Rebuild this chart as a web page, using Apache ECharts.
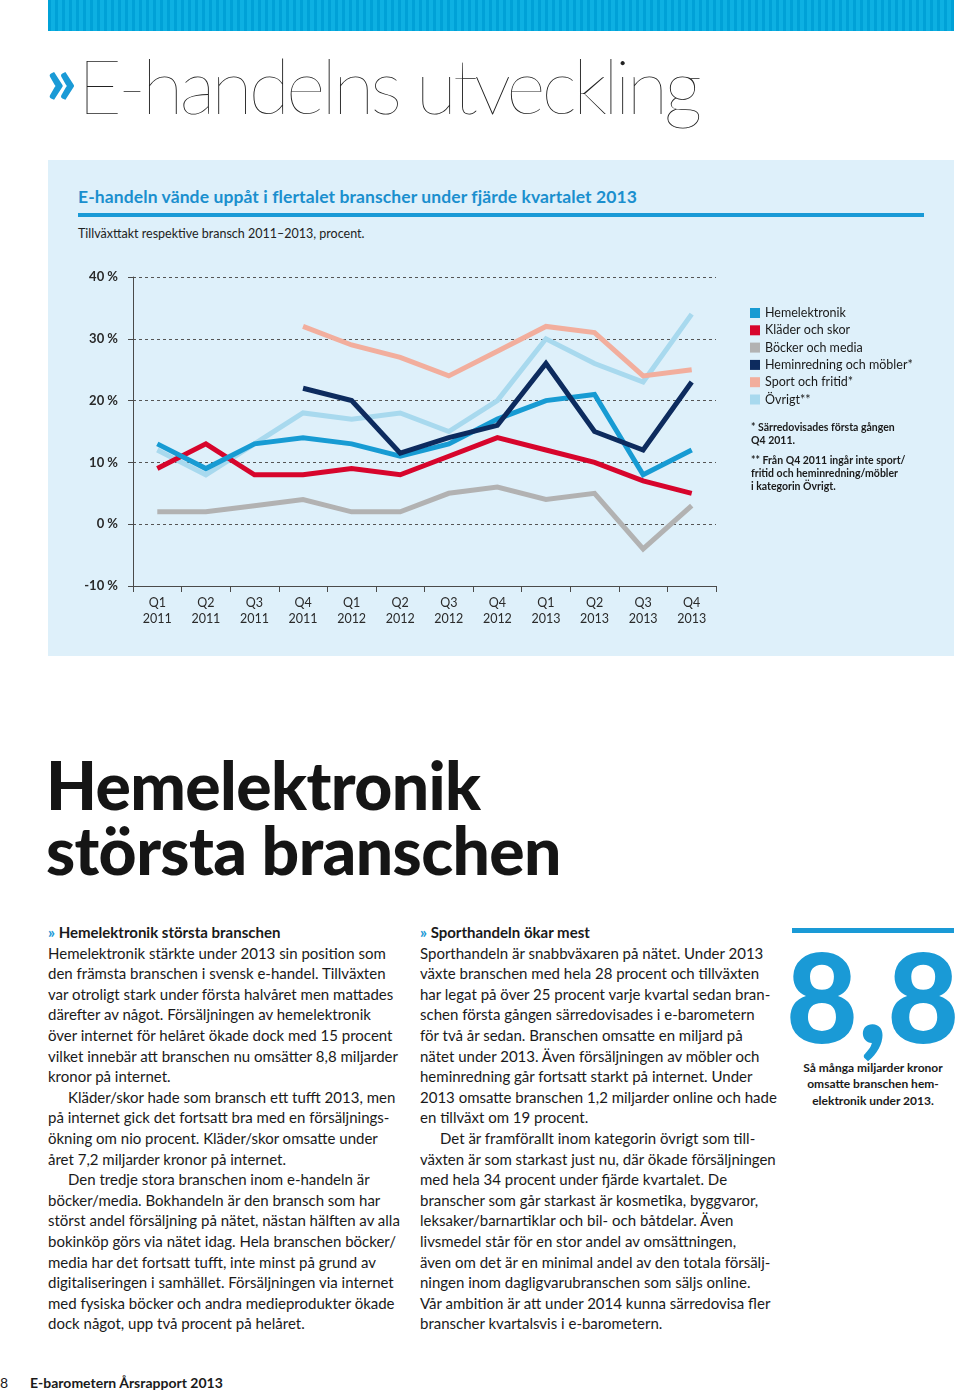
<!DOCTYPE html>
<html><head><meta charset="utf-8">
<script src="https://cdn.jsdelivr.net/npm/echarts@6/dist/echarts.min.js"></script>
<style>
html,body{margin:0;padding:0;background:#fff;}
body{width:960px;height:1394px;position:relative;overflow:hidden;font-family:Lato,'Noto Sans',sans-serif;color:#1a1a1a;}
.abs{position:absolute;white-space:nowrap;}
#stripe{left:48px;top:0;width:906px;height:31px;background:repeating-linear-gradient(90deg,#00a1d7 0 3px,#0db0e2 3px 7px);}
#title{left:46px;top:40px;font-size:76px;font-weight:100;line-height:90px;color:#222;letter-spacing:-4px;}
#title b{color:#1a9ad6;font-weight:900;font-size:66px;letter-spacing:-9px;position:relative;top:-10px;margin-right:10px;}
#box{left:48px;top:160px;width:906px;height:496px;background:#def0fa;}
#h2{left:78px;top:186px;font-size:17.5px;font-weight:700;color:#1a8fce;letter-spacing:0.1px;}
#rule{left:78px;top:213px;width:846px;height:4px;background:#1a9ad6;}
#sub{left:78px;top:226px;font-size:12.5px;color:#222;}
#chart{left:48px;top:160px;width:906px;height:496px;}
#big{left:46px;top:752px;font-size:66px;font-weight:900;line-height:65px;color:#151515;letter-spacing:-0.6px;}
.col{font-size:15px;line-height:20.6px;color:#1a1a1a;}
.col div{white-space:nowrap;}
.col .in{padding-left:20px;}
.col .hd{font-weight:700;}
.col .hd span{color:#1a9ad6;font-weight:900;}
#c1{left:48px;top:922px;}
#c2{left:420px;top:922px;}
#rule2{left:792px;top:928px;width:162px;height:5px;background:#1a9ad6;}
#num{left:786px;top:925px;font-size:124px;font-weight:900;color:#1a9ad6;line-height:140px;letter-spacing:0px;}
#cap{left:792px;top:1060px;width:162px;text-align:center;font-size:12px;font-weight:700;line-height:16.3px;white-space:normal;}
#foot{left:0;top:1374px;font-size:14px;}
#foot b{position:absolute;left:30px;top:0;font-weight:700;white-space:nowrap;}
</style></head>
<body>
<div id="stripe" class="abs"></div>
<div id="title" class="abs"><b>»</b>E-handelns utveckling</div>
<div id="box" class="abs"></div>
<div id="h2" class="abs">E-handeln vände uppåt i flertalet branscher under fjärde kvartalet 2013</div>
<div id="rule" class="abs"></div>
<div id="sub" class="abs">Tillväxttakt respektive bransch 2011–2013, procent.</div>
<div id="chart" class="abs"></div>
<div id="big" class="abs">Hemelektronik<br>största branschen</div>
<div id="c1" class="abs col">
<div class="hd"><span>»</span> Hemelektronik största branschen</div>
<div>Hemelektronik stärkte under 2013 sin position som</div>
<div>den främsta branschen i svensk e-handel. Tillväxten</div>
<div>var otroligt stark under första halvåret men mattades</div>
<div>därefter av något. Försäljningen av hemelektronik</div>
<div>över internet för helåret ökade dock med 15 procent</div>
<div>vilket innebär att branschen nu omsätter 8,8 miljarder</div>
<div>kronor på internet.</div>
<div class="in">Kläder/skor hade som bransch ett tufft 2013, men</div>
<div>på internet gick det fortsatt bra med en försäljnings-</div>
<div>ökning om nio procent. Kläder/skor omsatte under</div>
<div>året 7,2 miljarder kronor på internet.</div>
<div class="in">Den tredje stora branschen inom e-handeln är</div>
<div>böcker/media. Bokhandeln är den bransch som har</div>
<div>störst andel försäljning på nätet, nästan hälften av alla</div>
<div>bokinköp görs via nätet idag. Hela branschen böcker/</div>
<div>media har det fortsatt tufft, inte minst på grund av</div>
<div>digitaliseringen i samhället. Försäljningen via internet</div>
<div>med fysiska böcker och andra medieprodukter ökade</div>
<div>dock något, upp två procent på helåret.</div>
</div>
<div id="c2" class="abs col">
<div class="hd"><span>»</span> Sporthandeln ökar mest</div>
<div>Sporthandeln är snabbväxaren på nätet. Under 2013</div>
<div>växte branschen med hela 28 procent och tillväxten</div>
<div>har legat på över 25 procent varje kvartal sedan bran-</div>
<div>schen första gången särredovisades i e-barometern</div>
<div>för två år sedan. Branschen omsatte en miljard på</div>
<div>nätet under 2013. Även försäljningen av möbler och</div>
<div>heminredning går fortsatt starkt på internet. Under</div>
<div>2013 omsatte branschen 1,2 miljarder online och hade</div>
<div>en tillväxt om 19 procent.</div>
<div class="in">Det är framförallt inom kategorin övrigt som till-</div>
<div>växten är som starkast just nu, där ökade försäljningen</div>
<div>med hela 34 procent under fjärde kvartalet. De</div>
<div>branscher som går starkast är kosmetika, byggvaror,</div>
<div>leksaker/barnartiklar och bil- och båtdelar. Även</div>
<div>livsmedel står för en stor andel av omsättningen,</div>
<div>även om det är en minimal andel av den totala försälj-</div>
<div>ningen inom dagligvarubranschen som säljs online.</div>
<div>Vår ambition är att under 2014 kunna särredovisa fler</div>
<div>branscher kvartalsvis i e-barometern.</div>
</div>
<div id="rule2" class="abs"></div>
<div id="num" class="abs">8,8</div>
<div id="cap" class="abs">Så många miljarder kronor omsatte branschen hem-<br>elektronik under 2013.</div>
<div id="foot" class="abs">8<b>E-barometern Årsrapport 2013</b></div>
<script>
const quarters = ['Q1\n2011','Q2\n2011','Q3\n2011','Q4\n2011','Q1\n2012','Q2\n2012','Q3\n2012','Q4\n2012','Q1\n2013','Q2\n2013','Q3\n2013','Q4\n2013'];
const seriesNames = ['Hemelektronik','Kläder och skor','Böcker och media','Heminredning och möbler*','Sport och fritid*','Övrigt**'];
const hemelektronik = [13, 9, 13, 14, 13, 11, 13, 17, 20, 21, 8, 12];
const kladerOchSkor = [9, 13, 8, 8, 9, 8, 11, 14, 12, 10, 7, 5];
const bockerOchMedia = [2, 2, 3, 4, 2, 2, 5, 6, 4, 5, -4, 3];
const heminredning = [null, null, null, 22, 20, 11.5, 14, 16, 26, 15, 12, 23];
const sportOchFritid = [null, null, null, 32, 29, 27, 24, 28, 32, 31, 24, 25];
const ovrigt = [12, 8, 13, 18, 17, 18, 15, 20, 30, 26, 23, 34];
const yTicks = [-10, 0, 10, 20, 30, 40];
const footnote1 = '* Särredovisades första gången\nQ4 2011.';
const footnote2 = '** Från Q4 2011 ingår inte sport/\nfritid och heminredning/möbler\ni kategorin Övrigt.';

const colors = ['#179bd3', '#d7052c', '#b2b2b2', '#0d2b5e', '#f2ae9d', '#a8d9ee'];
const dataList = [hemelektronik, kladerOchSkor, bockerOchMedia, heminredning, sportOchFritid, ovrigt];
const zOrder = [4, 3, 1, 6, 5, 2];
const FF = 'Lato, "Noto Sans", sans-serif';

const chart = echarts.init(document.getElementById('chart'), null, {renderer: 'canvas'});
chart.setOption({
  backgroundColor: 'transparent',
  animation: false,
  grid: {left: 85, top: 117, width: 583, height: 309, containLabel: false},
  legend: {
    orient: 'vertical', left: 697, top: 141, icon: 'rect',
    itemWidth: 10, itemHeight: 10, itemGap: 3.3,
    data: seriesNames,
    textStyle: {fontSize: 12.5, color: '#1a1a1a', fontFamily: FF, lineHeight: 14}
  },
  xAxis: {
    type: 'category', data: quarters, boundaryGap: true,
    axisLine: {onZero: false, lineStyle: {color: '#4a4a4a', width: 1}},
    axisTick: {show: true, length: 6, lineStyle: {color: '#4a4a4a'}},
    axisLabel: {fontSize: 12.5, color: '#2a2a2a', fontFamily: FF, lineHeight: 16, margin: 9, interval: 0}
  },
  yAxis: {
    type: 'value', min: yTicks[0], max: yTicks[yTicks.length - 1], interval: 10,
    axisLine: {show: true, lineStyle: {color: '#4a4a4a', width: 1}},
    axisTick: {show: true, length: 5, lineStyle: {color: '#4a4a4a'}},
    axisLabel: {formatter: '{value} %', fontSize: 13, fontWeight: 'bold', color: '#2a2a2a', fontFamily: FF, margin: 15},
    splitLine: {show: true, lineStyle: {color: '#555', width: 1, type: [3, 3]}}
  },
  graphic: [
    {type: 'text', left: 703, top: 261, style: {text: footnote1, font: 'bold 10.5px ' + FF, lineHeight: 13, fill: '#1a1a1a'}},
    {type: 'text', left: 703, top: 294, style: {text: footnote2, font: 'bold 10.5px ' + FF, lineHeight: 13, fill: '#1a1a1a'}}
  ],
  series: seriesNames.map((n, i) => ({
    name: n, type: 'line', data: dataList[i], color: colors[i],
    showSymbol: false, symbol: 'none', smooth: false, connectNulls: false,
    z: zOrder[i],
    lineStyle: {width: 5, color: colors[i], cap: 'butt', join: 'miter'},
    itemStyle: {color: colors[i]}
  }))
});
</script>
</body></html>
